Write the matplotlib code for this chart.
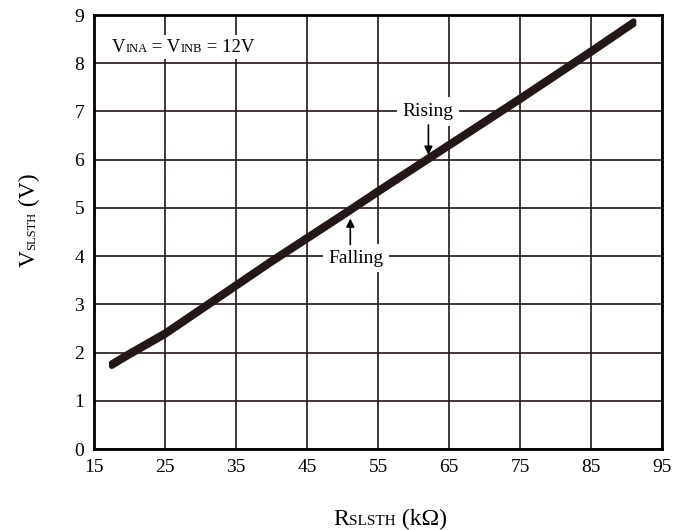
import matplotlib
matplotlib.use("Agg")
import matplotlib.pyplot as plt
import matplotlib.transforms as mtransforms
from matplotlib.patches import Rectangle

SERIF = ['Liberation Serif', 'DejaVu Serif']
plt.rcParams['font.family'] = SERIF

# ---- data ----
r_kohm = [17.5, 20, 25, 30, 35, 40, 45, 50, 55, 60, 65, 70, 75, 80, 85, 91]
v_rising = [1.78, 2.00, 2.42, 2.92, 3.42, 3.92, 4.40, 4.88, 5.37, 5.85, 6.33, 6.81, 7.29, 7.78, 8.27, 8.87]
v_falling = [1.72, 1.94, 2.36, 2.86, 3.36, 3.86, 4.34, 4.82, 5.31, 5.79, 6.27, 6.75, 7.23, 7.72, 8.21, 8.81]
xticks = [15, 25, 35, 45, 55, 65, 75, 85, 95]
yticks = [0, 1, 2, 3, 4, 5, 6, 7, 8, 9]

LINE = '#231815'

fig = plt.figure(figsize=(6.98, 5.30), dpi=100)
ax = fig.add_axes([94/698, 81/530, 568/698, 434/530])
ax.set_xlim(15, 95)
ax.set_ylim(0, 9)
ax.set_xticks(xticks)
ax.set_yticks(yticks)
ax.tick_params(length=0, labelsize=14, pad=7, colors='black')
ax.grid(True, color=LINE, lw=1.2, zorder=0)
ax.set_axisbelow(True)
for s in ax.spines.values():
    s.set_linewidth(2.0)
    s.set_color('black')

ax.plot(r_kohm, v_falling, color=LINE, lw=4.2, solid_capstyle='round', zorder=3)
ax.plot(r_kohm, v_rising, color=LINE, lw=4.2, solid_capstyle='round', zorder=3)

# annotations
ax.text(62.0, 7.0, 'Rising', fontsize=14, ha='center', va='center', zorder=4,
        bbox=dict(fc='white', ec='none', pad=4))
ax.annotate('', xy=(62.1, 6.1), xytext=(62.1, 6.72),
            arrowprops=dict(arrowstyle='-|>', color='black', lw=1.2, mutation_scale=12,
                            shrinkA=0, shrinkB=0), zorder=4)
ax.text(51.9, 3.96, 'Falling', fontsize=14, ha='center', va='center', zorder=4,
        bbox=dict(fc='white', ec='none', pad=4))
ax.annotate('', xy=(51.1, 4.78), xytext=(51.1, 4.24),
            arrowprops=dict(arrowstyle='-|>', color='black', lw=1.2, mutation_scale=12,
                            shrinkA=0, shrinkB=0), zorder=4)


def rich(x, y, pieces, transform, rotation=0, ha='left', zorder=5):
    fig.canvas.draw()
    r = fig.canvas.get_renderer()
    widths = []
    for s, fs in pieces:
        t = fig.text(0, 0, s, fontsize=fs, fontfamily=SERIF)
        widths.append(t.get_window_extent(r).width)
        t.remove()
    total = sum(widths)
    off = -total / 2 if ha == 'center' else 0.0
    texts = []
    for (s, fs), w in zip(pieces, widths):
        dx, dy = (0, off) if rotation == 90 else (off, 0)
        tr = mtransforms.offset_copy(transform, fig=fig, x=dx, y=dy, units='dots')
        t = fig.text(x, y, s, fontsize=fs, transform=tr, rotation=rotation,
                     rotation_mode='anchor', ha='left', va='baseline',
                     fontfamily=SERIF, zorder=zorder)
        texts.append(t)
        off += w
    return texts

# condition label inside the plot
cond = rich(17.5, 8.23, [('V', 13.5), ('INA', 9), (' = V', 13.5), ('INB', 9), (' = 12V', 13.5)],
            ax.transData)
fig.canvas.draw()
rr = fig.canvas.get_renderer()
bbs = [t.get_window_extent(rr) for t in cond]
x0 = min(b.x0 for b in bbs) - 4
x1 = max(b.x1 for b in bbs) + 4
y0 = min(b.y0 for b in bbs) - 3
y1 = max(b.y1 for b in bbs) + 4
ax.add_patch(Rectangle((x0, y0), x1 - x0, y1 - y0, transform=mtransforms.IdentityTransform(),
                       facecolor='white', edgecolor='none', zorder=2))

# axis labels (small-caps subscripts on baseline)
rich(35, 310, [('V', 17), ('SLSTH', 9), (' (V)', 17)], mtransforms.IdentityTransform(),
     rotation=90, ha='center')
rich(390, 5, [('R', 17), ('SLSTH', 11), (' (k\u03a9)', 17)], mtransforms.IdentityTransform(),
     ha='center')

fig.savefig('out.png', dpi=100)
